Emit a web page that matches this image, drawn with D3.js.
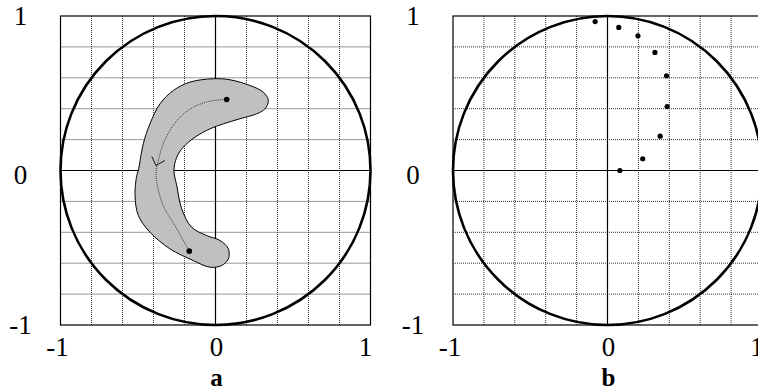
<!DOCTYPE html>
<html><head><meta charset="utf-8">
<script src="https://cdn.jsdelivr.net/npm/d3@7"></script>
<style>body{margin:0;background:#fff;} svg{display:block;}</style>
</head><body>
<svg id="c" width="758" height="392"></svg>
<script>
// ---- data ----
const tickValues = [-1, 0, 1];
const tickLabels = ["-1", "0", "1"];
const gridValues = [-0.8, -0.6, -0.4, -0.2, 0.2, 0.4, 0.6, 0.8];
const panelLabels = ["a", "b"];

// panel a: shaded region outline
const blobX = [-0.498,-0.466,-0.423,-0.358,-0.272,-0.165,-0.014,0.094,0.223,0.308,0.341,0.319,0.266,0.158,0.050,-0.035,-0.132,-0.208,-0.250,-0.268,-0.250,-0.218,-0.154,-0.057,0.029,0.083,0.083,0.040,-0.035,-0.143,-0.294,-0.423,-0.498,-0.519,-0.508];
const blobY = [0.000,0.173,0.302,0.432,0.518,0.572,0.594,0.587,0.550,0.507,0.453,0.399,0.367,0.335,0.302,0.270,0.216,0.151,0.086,0.000,-0.097,-0.248,-0.367,-0.421,-0.453,-0.507,-0.572,-0.615,-0.626,-0.583,-0.507,-0.399,-0.291,-0.162,-0.032];
// panel a: trajectory
const trajX = [0.072,-0.035,-0.143,-0.229,-0.294,-0.337,-0.369,-0.382,-0.379,-0.337,-0.250,-0.169];
const trajY = [0.460,0.449,0.410,0.345,0.259,0.173,0.065,0.010,-0.076,-0.227,-0.377,-0.522];
const arrowX = [-0.411,-0.384,-0.326];
const arrowY = [0.091,0.032,0.065];
const dotsAX = [0.072,-0.169];
const dotsAY = [0.460,-0.522];
// panel b: points
const dotsBX = [-0.080,0.073,0.197,0.307,0.382,0.386,0.341,0.228,0.080];
const dotsBY = [0.964,0.926,0.872,0.764,0.613,0.414,0.222,0.076,0.000];

// ---- drawing ----
const svg = d3.select("#c");
const FONT = "'Liberation Serif', 'DejaVu Serif', serif";

function panel(x0, x1, label, drawContent) {
  const x = d3.scaleLinear().domain([-1, 1]).range([x0, x1]);
  const y = d3.scaleLinear().domain([-1, 1]).range([325, 16]);
  const g = svg.append("g");
  // dotted grid
  g.selectAll("line.gv").data(gridValues).join("line")
    .attr("x1", d => x(d)).attr("x2", d => x(d))
    .attr("y1", y(-1)).attr("y2", y(1))
    .attr("stroke", "#333").attr("stroke-width", 1).attr("stroke-dasharray", "1,1");
  g.selectAll("line.gh").data(gridValues).join("line")
    .attr("y1", d => y(d)).attr("y2", d => y(d))
    .attr("x1", x(-1)).attr("x2", x(1))
    .attr("stroke", "#333").attr("stroke-width", 1).attr("stroke-dasharray", "1,1");
  // axes through zero
  g.append("line").attr("x1", x(0)).attr("x2", x(0)).attr("y1", y(-1)).attr("y2", y(1))
    .attr("stroke", "#000").attr("stroke-width", 1.2);
  g.append("line").attr("x1", x(-1)).attr("x2", x(1)).attr("y1", y(0)).attr("y2", y(0))
    .attr("stroke", "#000").attr("stroke-width", 1.2);
  // frame
  g.append("rect").attr("x", x(-1)).attr("y", y(1))
    .attr("width", x(1) - x(-1)).attr("height", y(-1) - y(1))
    .attr("fill", "none").attr("stroke", "#000").attr("stroke-width", 1.2);
  // unit circle
  g.append("ellipse").attr("cx", x(0)).attr("cy", y(0))
    .attr("rx", x(1) - x(0)).attr("ry", y(-1) - y(0))
    .attr("fill", "none").attr("stroke", "#000").attr("stroke-width", 2.6);
  // tick labels
  g.selectAll("text.yl").data(tickValues).join("text")
    .attr("x", x(-1) - 40).attr("y", d => y(d) + (d === 0 ? 13 : 9))
    .attr("text-anchor", "middle").attr("font-family", FONT).attr("font-size", 27)
    .text((d, i) => tickLabels[i]);
  g.selectAll("text.xl").data(tickValues).join("text")
    .attr("x", d => x(d) + (d === 0 ? 1 : (d < 0 ? -3 : -5))).attr("y", 356)
    .attr("text-anchor", "middle").attr("font-family", FONT).attr("font-size", 27)
    .text((d, i) => tickLabels[i]);
  g.append("text").attr("x", x(0) + 1).attr("y", 386)
    .attr("text-anchor", "middle").attr("font-family", FONT).attr("font-size", 25)
    .attr("font-weight", "bold").text(label);
  drawContent(g, x, y);
}

panel(60.5, 370.5, panelLabels[0], (g, x, y) => {
  const blob = d3.range(blobX.length).map(i => [x(blobX[i]), y(blobY[i])]);
  g.append("path").attr("d", d3.line().curve(d3.curveCatmullRomClosed)(blob))
    .attr("fill", "#c0c0c0").attr("stroke", "#000").attr("stroke-width", 1);
  const traj = d3.range(trajX.length).map(i => [x(trajX[i]), y(trajY[i])]);
  g.append("path").attr("d", d3.line().curve(d3.curveCatmullRom)(traj))
    .attr("fill", "none").attr("stroke", "#222").attr("stroke-width", 0.9)
    .attr("stroke-dasharray", "1,1");
  const arr = d3.range(arrowX.length).map(i => [x(arrowX[i]), y(arrowY[i])]);
  g.append("path").attr("d", d3.line()(arr))
    .attr("fill", "none").attr("stroke", "#000").attr("stroke-width", 0.9);
  g.selectAll("circle.d").data(d3.range(dotsAX.length)).join("circle")
    .attr("cx", i => x(dotsAX[i])).attr("cy", i => y(dotsAY[i])).attr("r", 2.8)
    .attr("fill", "#000");
});

panel(453, 762, panelLabels[1], (g, x, y) => {
  g.selectAll("circle.d").data(d3.range(dotsBX.length)).join("circle")
    .attr("cx", i => x(dotsBX[i])).attr("cy", i => y(dotsBY[i])).attr("r", 2.6)
    .attr("fill", "#000");
});
</script>
</body></html>
